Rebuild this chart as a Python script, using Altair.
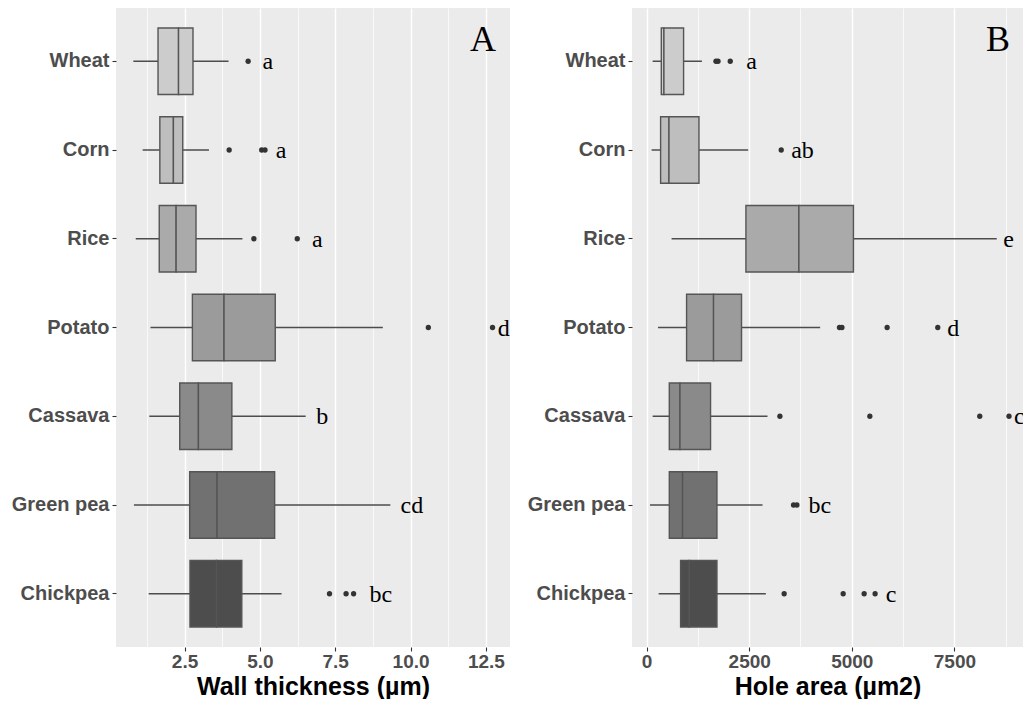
import altair as alt
import pandas as pd

categories = ["Wheat", "Corn", "Rice", "Potato", "Cassava", "Green pea", "Chickpea"]
fills = ["#cccccc", "#bebebe", "#aaaaaa", "#9b9b9b", "#8a8a8a", "#717171", "#4d4d4d"]

# Panel A: wall thickness (µm)
a_low = [0.80, 1.11, 0.88, 1.37, 1.33, 0.82, 1.31]
a_q1 = [1.62, 1.68, 1.66, 2.76, 2.34, 2.67, 2.68]
a_med = [2.30, 2.13, 2.22, 3.81, 2.96, 3.58, 3.56]
a_q3 = [2.78, 2.44, 2.88, 5.51, 4.07, 5.49, 4.40]
a_high = [3.96, 3.31, 4.42, 9.08, 6.52, 9.33, 5.72]
a_out_cat = ["Wheat", "Corn", "Corn", "Corn", "Rice", "Rice", "Potato", "Potato",
             "Chickpea", "Chickpea", "Chickpea"]
a_out_val = [4.61, 3.98, 5.06, 5.17, 4.80, 6.24, 10.59, 12.72, 7.31, 7.86, 8.11]
a_letters = ["a", "a", "a", "d", "b", "cd", "bc"]
a_letter_x = [5.09, 5.53, 6.73, 12.89, 6.87, 9.67, 8.64]
a_ticks = [1.25, 2.5, 3.75, 5.0, 6.25, 7.5, 8.75, 10.0, 11.25, 12.5]

# Panel B: hole area (µm2)
b_low = [147, 122, 609, 277, 147, 82, 293]
b_q1 = [358, 341, 2420, 974, 553, 553, 828]
b_med = [422, 545, 3711, 1631, 813, 877, 1040]
b_q3 = [901, 1276, 5040, 2313, 1558, 1714, 1714]
b_high = [1348, 2476, 8532, 4229, 2946, 2825, 2906]
b_out_cat = ["Wheat", "Wheat", "Wheat", "Corn", "Potato", "Potato", "Potato", "Potato",
             "Cassava", "Cassava", "Cassava", "Cassava", "Green pea", "Green pea",
             "Chickpea", "Chickpea", "Chickpea", "Chickpea"]
b_out_val = [1690, 1740, 2038, 3280, 4700, 4760, 5861, 7095,
             3248, 5440, 8118, 8831, 3580, 3662, 3352, 4790, 5301, 5568]
b_letters = ["a", "ab", "e", "d", "c", "bc", "c"]
b_letter_x = [2428, 3523, 8693, 7329, 8953, 3945, 5829]
b_ticks = [0, 1250, 2500, 3750, 5000, 6250, 7500, 8750]

SANS = "Liberation Sans"
SERIF = "Liberation Serif"


def panel(low, q1, med, q3, high, out_cat, out_val, letters, letter_x,
          tag, tag_x, domain, ticks, major, fmt, title, width):
    box = pd.DataFrame({"cat": categories, "low": low, "q1": q1, "med": med,
                        "q3": q3, "high": high})
    outs = pd.DataFrame({"cat": out_cat, "val": out_val})
    labs = pd.DataFrame({"cat": categories, "lab": letters, "x": letter_x})
    tagdf = pd.DataFrame({"cat": [categories[0]], "lab": [tag], "x": [tag_x]})

    test = f"datum.value % {major} == 0"
    xaxis = alt.Axis(
        values=ticks,
        labelExpr=f"{test} ? format(datum.value, '{fmt}') : ''",
        gridWidth={"condition": {"test": test, "value": 1.4}, "value": 0.7},
        tickOpacity={"condition": {"test": test, "value": 1}, "value": 0},
        title=title,
    )
    xscale = alt.Scale(domain=domain, nice=False, zero=False)
    yenc = alt.Y("cat:N", sort=categories,
                 scale=alt.Scale(domain=categories, paddingInner=0.25, paddingOuter=0.225),
                 axis=alt.Axis(title=None, minExtent=116, maxExtent=116))

    whisk = alt.Chart(box).mark_rule(color="#4d4d4d", strokeWidth=1.5).encode(
        x=alt.X("low:Q", scale=xscale, axis=xaxis), x2="high:Q", y=yenc)
    colenc = alt.Color("cat:N", scale=alt.Scale(domain=categories, range=fills), legend=None)
    lower = alt.Chart(box).mark_bar(stroke="#555555", strokeWidth=1.4).encode(
        x=alt.X("q1:Q", scale=xscale, axis=xaxis), x2="med:Q", y=yenc, color=colenc)
    upper = alt.Chart(box).mark_bar(stroke="#555555", strokeWidth=1.4).encode(
        x=alt.X("med:Q", scale=xscale, axis=xaxis), x2="q3:Q", y=yenc, color=colenc)
    pts = alt.Chart(outs).mark_circle(color="#333333", opacity=1, size=28).encode(
        x=alt.X("val:Q", scale=xscale, axis=xaxis), y=yenc)
    txt = alt.Chart(labs).mark_text(font=SERIF, fontSize=24, align="left",
                                    baseline="alphabetic", dy=8, color="black",
                                    clip=True).encode(
        x=alt.X("x:Q", scale=xscale, axis=xaxis), y=yenc, text="lab:N")
    tg = alt.Chart(tagdf).mark_text(font=SERIF, fontSize=36, align="center",
                                    baseline="alphabetic", dy=-10, color="black").encode(
        x=alt.X("x:Q", scale=xscale, axis=xaxis), y=yenc, text="lab:N")
    return alt.layer(whisk, lower, upper, pts, txt, tg).properties(width=width, height=639)


pa = panel(a_low, a_q1, a_med, a_q3, a_high, a_out_cat, a_out_val, a_letters, a_letter_x,
           "A", 12.4, [0.225, 13.3], a_ticks, 2.5, ".1f", "Wall thickness (µm)", 394)
pb = panel(b_low, b_q1, b_med, b_q3, b_high, b_out_cat, b_out_val, b_letters, b_letter_x,
           "B", 8560, [-356, 9172], b_ticks, 2500, "d", "Hole area (µm2)", 391)

chart = alt.hconcat(pa, pb, spacing=6).properties(
    padding={"left": 0, "top": 8, "right": 0, "bottom": 0},
    background="white",
).configure_view(
    fill="#ebebeb", stroke=None
).configure_axis(
    domain=False,
    gridColor="white",
    gridWidth=1.4,
    tickColor="#333333",
    tickSize=4,
    tickWidth=1.1,
    labelFont=SANS,
    labelFontWeight="bold",
    labelFontSize=20,
    labelColor="#4d4d4d",
    labelPadding=3,
    titleFont=SANS,
    titleFontWeight="bold",
    titleFontSize=25,
    titleColor="black",
).configure_axisX(
    labelFontSize=19,
    labelPadding=1,
    titlePadding=3,
)

chart.save("out.html", embed_options={"renderer": "svg", "actions": False})
